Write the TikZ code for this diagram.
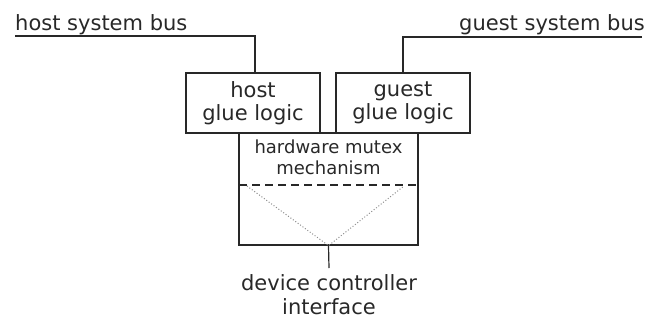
\documentclass[tikz,border=0pt]{standalone}
\usepackage{fontspec}
\setmainfont{DejaVu Sans}
\usetikzlibrary{calc}
\definecolor{dgrey}{RGB}{40,40,40}
\definecolor{lgrey}{RGB}{140,140,140}
\tikzset{
  glue/.style={draw=dgrey,line width=1.2bp,minimum width=134bp,minimum height=60bp,align=center,font=\fontsize{21bp}{23bp}\selectfont,inner sep=0pt,text=dgrey},
  wire/.style={draw=dgrey,line width=1.2bp},
  lbl/.style={font=\fontsize{21bp}{24bp}\selectfont,inner sep=0pt,align=center,text=dgrey}
}
\begin{document}
\begin{tikzpicture}[x=1bp,y=-1bp]
\useasboundingbox (0,0) rectangle (662,320);
\node[lbl,anchor=base west] (hbus) at (15,30) {host system bus};
\node[lbl,anchor=base east] (gbus) at (645,30) {guest system bus};
\coordinate (hb1) at (15,36);
\coordinate (hb2) at (255,36);
\coordinate (gb1) at (642,37);
\coordinate (gb2) at (403,37);
\node[glue] (host) at (253,103) {host\\glue logic};
\node[glue] (guest) at (403,103) {guest\\glue logic};
\node[draw=dgrey,line width=1.2bp,minimum width=179bp,minimum height=112bp] (mutex) at (328.5,189) {};
\node[lbl,font=\fontsize{18bp}{21bp}\selectfont,anchor=north] (mutextxt) at (328.5,140) {hardware mutex\\mechanism};
\coordinate (dl) at (239,185);
\coordinate (dr) at (418,185);
\coordinate (vl) at (247,186);
\coordinate (vr) at (404,186);
\node[lbl,anchor=north] (dev) at (329,274) {device controller\\interface};
\coordinate (devtop) at (329,268);
\draw[wire] (hb1) -- (hb2) -- (host.north -| hb2);
\draw[wire] (gb1) -- (gb2) -- (guest.north -| gb2);
\draw[wire,dashed,dash pattern=on 8bp off 5bp] (dl) -- (dr);
\draw[lgrey,line width=1bp,dotted] (vl) -- (mutex.south) -- (vr);
\draw[wire] (mutex.south) -- (devtop);
\end{tikzpicture}
\end{document}
